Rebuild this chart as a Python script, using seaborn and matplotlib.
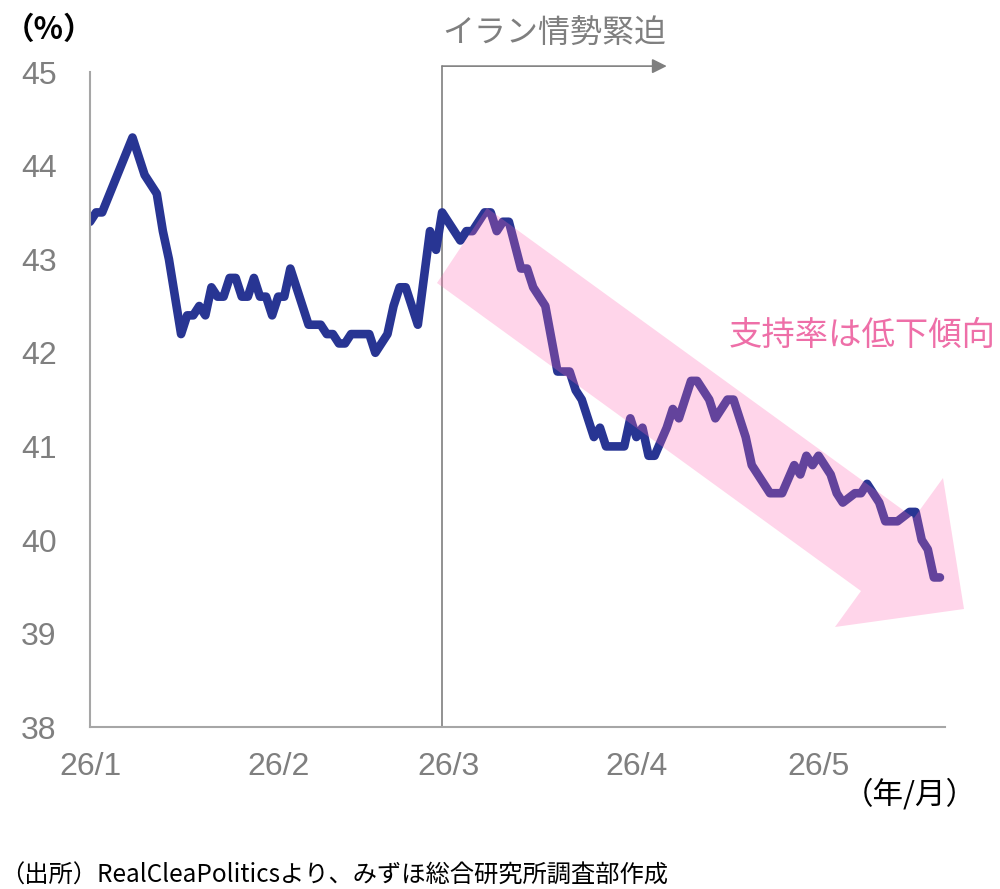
import numpy as np
import pandas as pd
import matplotlib
matplotlib.use("Agg")
import matplotlib.pyplot as plt
import matplotlib.dates as mdates
from matplotlib.patches import Polygon
from matplotlib import font_manager
import seaborn as sns

# ---- data ----
day_offsets = [0, 1, 2, 7, 9, 11, 12, 13, 15, 16, 17, 18, 19, 20, 21, 22, 23, 24, 25, 26,
               27, 28, 29, 30, 31, 32, 33, 35, 36, 38, 39, 40, 41, 42, 43, 46, 47, 49, 50,
               51, 52, 54, 56, 57, 58, 61, 62, 63, 65, 66, 67, 68, 69, 71, 72, 73, 74, 75,
               77, 79, 80, 81, 83, 84, 85, 88, 89, 90, 91, 92, 93, 95, 96, 97, 99, 100, 102,
               103, 105, 106, 107, 108, 109, 110, 112, 114, 116, 117, 118, 119, 120, 122,
               123, 124, 126, 127, 128, 130, 131, 133, 135, 136, 137, 138, 139, 140]
support = [43.4, 43.5, 43.5, 44.3, 43.9, 43.7, 43.3, 43.0, 42.2, 42.4, 42.4, 42.5, 42.4,
           42.7, 42.6, 42.6, 42.8, 42.8, 42.6, 42.6, 42.8, 42.6, 42.6, 42.4, 42.6, 42.6,
           42.9, 42.5, 42.3, 42.3, 42.2, 42.2, 42.1, 42.1, 42.2, 42.2, 42.0, 42.2, 42.5,
           42.7, 42.7, 42.3, 43.3, 43.1, 43.5, 43.2, 43.3, 43.3, 43.5, 43.5, 43.3, 43.4,
           43.4, 42.9, 42.9, 42.7, 42.6, 42.5, 41.8, 41.8, 41.6, 41.5, 41.1, 41.2, 41.0,
           41.0, 41.3, 41.1, 41.2, 40.9, 40.9, 41.2, 41.4, 41.3, 41.7, 41.7, 41.5, 41.3,
           41.5, 41.5, 41.3, 41.1, 40.8, 40.7, 40.5, 40.5, 40.8, 40.7, 40.9, 40.8, 40.9,
           40.7, 40.5, 40.4, 40.5, 40.5, 40.6, 40.4, 40.2, 40.2, 40.3, 40.3, 40.0, 39.9,
           39.6, 39.6]
start_date = "2026-01-01"
event_date = "2026-02-28"
event_arrow_end = "2026-04-06"
x_end = "2026-05-21 20:00"
tick_dates = ["2026-01-01", "2026-02-01", "2026-03-01", "2026-04-01", "2026-05-01"]
tick_labels = ["26/1", "26/2", "26/3", "26/4", "26/5"]
y_ticks = [38, 39, 40, 41, 42, 43, 44, 45]

dates = pd.to_datetime(start_date) + pd.to_timedelta(day_offsets, unit="D")
df = pd.DataFrame({"date": dates, "support": support})

# ---- style ----
sns.set_style("white")
plt.rcParams["font.family"] = ["Noto Sans CJK JP", "DejaVu Sans"]
avail = {f.name for f in font_manager.fontManager.ttflist}
num_font = "Liberation Sans Narrow" if "Liberation Sans Narrow" in avail else "Liberation Sans"

gray = "#7f7f7f"
axis_gray = "#a6a6a6"
navy = "#283593"

fig = plt.figure(figsize=(10, 8.89), dpi=100)
ax = fig.add_axes([0.09, 0.182, 0.855, 0.737])

sns.lineplot(data=df, x="date", y="support", ax=ax, color=navy, linewidth=6.2,
             solid_joinstyle="round", solid_capstyle="round")

ax.set_ylim(38, 45)
ax.set_xlim(pd.to_datetime(start_date), pd.to_datetime(x_end))
ax.set_yticks(y_ticks)
ax.set_yticklabels([str(v) for v in y_ticks], fontfamily=num_font, fontsize=23, color=gray)
ax.set_xticks(pd.to_datetime(tick_dates))
ax.set_xticklabels(tick_labels, fontfamily=num_font, fontsize=23, color=gray)
ax.tick_params(axis="y", length=0, pad=24)
ax.tick_params(axis="x", length=6, width=1.2, color=axis_gray, pad=12, direction="out")
ax.set_xlabel("")
ax.set_ylabel("")
for s in ["top", "right"]:
    ax.spines[s].set_visible(False)
for s in ["left", "bottom"]:
    ax.spines[s].set_color(axis_gray)
    ax.spines[s].set_linewidth(1.5)

# event bracket arrow
ev = mdates.date2num(pd.to_datetime(event_date))
ev_end = mdates.date2num(pd.to_datetime(event_arrow_end))
trans = matplotlib.transforms.blended_transform_factory(ax.transData, ax.transAxes)
ax.plot([ev, ev], [0, 1.009], transform=trans, color=gray, lw=1.2, clip_on=False, zorder=1)
ax.annotate("", xy=(ev_end, 1.009), xytext=(ev, 1.009), xycoords=trans, textcoords=trans,
            arrowprops=dict(arrowstyle="-|>", color=gray, lw=1.2, mutation_scale=22,
                            shrinkA=0, shrinkB=0), annotation_clip=False)
ax.text(ev, 1.06, "イラン情勢緊迫", transform=trans, ha="left", va="center",
        fontsize=23, color=gray)

# pink trend arrow (figure pixel geometry)
W, H = 1000, 889
pts_px = [(437, 283), (487, 208), (914, 518), (943, 478), (964, 609), (835, 627), (861, 591)]
pts = [(x / W, 1 - y / H) for x, y in pts_px]
arrow = Polygon(pts, closed=True, transform=fig.transFigure, facecolor="#ff69b4",
                edgecolor="none", alpha=0.28, zorder=5)
fig.add_artist(arrow)

fig.text(0.996, 1 - 335 / H, "支持率は低下傾向", ha="right", va="center", fontsize=24,
         color="#ee6fa8")

fig.text(0.004, 1 - 30 / H, "（%）", ha="left", va="center", fontsize=22, color="black",
         fontweight="bold")
fig.text(0.977, 1 - 795 / H, "（年/月）", ha="right", va="center", fontsize=22, color="black")
fig.text(0.0, 1 - 876 / H, "（出所）RealCleaPoliticsより、みずほ総合研究所調査部作成",
         ha="left", va="center", fontsize=17.5, color="black")

fig.savefig("out.png", dpi=100)
